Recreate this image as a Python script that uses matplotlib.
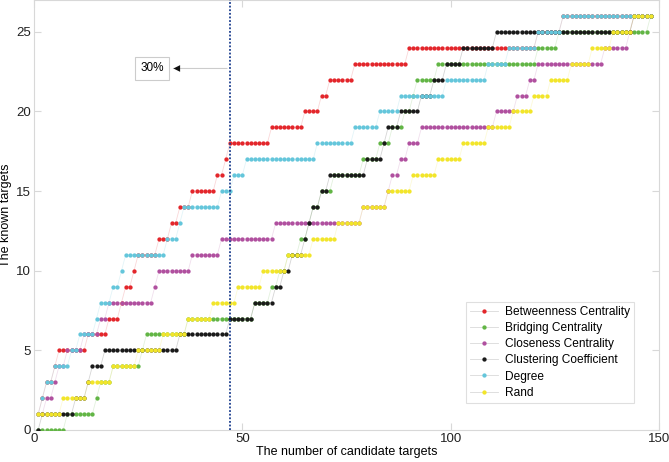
import numpy as np
import matplotlib
matplotlib.use("Agg")
import matplotlib.pyplot as plt
from matplotlib.lines import Line2D

plt.rcParams['font.family'] = ['Liberation Sans', 'DejaVu Sans']

# number of candidate targets examined (x = 1..N)
n_candidates = 148

# For each method: the candidate count at which the number of known targets
# first reaches 1, 2, 3, ... 26
series_names = ["Betweenness Centrality", "Bridging Centrality", "Closeness Centrality",
                "Clustering Coefficient", "Degree", "Rand"]
betweenness_steps = [1, 2, 3, 5, 6, 13, 18, 21, 22, 24, 25, 30, 33, 35, 38, 44, 46, 47,
                     57, 65, 69, 71, 77, 90, 121, 127]
bridging_steps = [8, 15, 16, 19, 26, 27, 37, 53, 57, 59, 61, 64, 66, 67, 69, 72, 79, 83,
                  86, 89, 91, 92, 97, 121, 126, 148]
closeness_steps = [1, 3, 5, 6, 8, 12, 16, 18, 29, 30, 38, 45, 58, 79, 85, 86, 88, 90,
                   93, 111, 116, 119, 121, 137, 143, 144]
clustering_steps = [2, 10, 13, 14, 17, 35, 47, 53, 58, 60, 62, 65, 66, 67, 69, 71, 80, 84,
                    85, 88, 93, 96, 99, 103, 111, 144]
degree_steps = [1, 2, 3, 5, 9, 11, 15, 16, 19, 21, 22, 32, 35, 36, 45, 48, 51, 68, 77,
                83, 88, 99, 109, 114, 121, 127]
rand_steps = [1, 7, 13, 19, 25, 31, 37, 43, 49, 55, 61, 67, 73, 79, 85, 91, 97, 103, 109,
              115, 120, 124, 129, 134, 139, 144]

colors = ["#e3262b", "#62b545", "#b0509f", "#1a1a1a", "#64c6db", "#f2e52a"]
threshold_x = 47
threshold_label = "30%"

all_steps = [betweenness_steps, bridging_steps, closeness_steps, clustering_steps,
             degree_steps, rand_steps]

x = np.arange(1, n_candidates + 1)

fig = plt.figure(figsize=(6.69, 4.62), dpi=100)
ax = fig.add_axes([34 / 669, 1 - 430 / 462, 625 / 669, 430 / 462])

for name, steps, c in zip(series_names, all_steps, colors):
    y = np.searchsorted(np.array(steps), x, side='right')
    ax.plot(x, y, '-', color=c, lw=0.6, alpha=0.18, zorder=2)
    ax.plot(x, y, 'o', color=c, ms=3.1, mew=0, zorder=3, label=name)

ax.axvline(threshold_x, color="#1d3f8f", ls=(0, (1, 1)), lw=1.3, zorder=4)

ax.annotate("", xy=(32.8, 22.7), xytext=(threshold_x, 22.7),
            arrowprops=dict(arrowstyle="-", color="#cccccc", lw=0.8), zorder=5)
ax.annotate("", xy=(32.8, 22.7), xytext=(35.8, 22.7),
            arrowprops=dict(arrowstyle="-|>", color="#111111", lw=0.0,
                            mutation_scale=12), zorder=6)
ax.text(28.3, 22.7, threshold_label, ha='center', va='center', fontsize=8.5,
        bbox=dict(boxstyle='square,pad=0.45', fc='white', ec='#cccccc', lw=0.8), zorder=6)

ax.set_xlim(0, 150)
ax.set_ylim(0, 27)
ax.set_xticks([0, 50, 100, 150])
ax.set_yticks([0, 5, 10, 15, 20, 25])
ax.tick_params(direction='in', length=5, color='#d8d8d8', labelsize=9.5,
               labelcolor='#222222', top=True, right=True, pad=2)
for s in ax.spines.values():
    s.set_color('#d8d8d8')
    s.set_linewidth(0.8)

ax.set_xlabel("The number of candidate targets", fontsize=9, labelpad=1)
ax.set_ylabel("The known targets", fontsize=9, labelpad=3)

leg_handles = [Line2D([0], [0], color=(0.85, 0.85, 0.85), lw=0.6, marker='o', ms=3.1,
                      mew=0, markerfacecolor=c) for c in colors]
leg = ax.legend(leg_handles, series_names, loc='lower right',
                bbox_to_anchor=(0.96, 0.063), borderaxespad=0, fontsize=8.6,
                frameon=True, fancybox=False, edgecolor='#d8d8d8',
                handlelength=2.3, handletextpad=0.6, labelspacing=0.35, borderpad=0.35)
leg.get_frame().set_linewidth(0.8)

fig.savefig("out.png", dpi=100)
